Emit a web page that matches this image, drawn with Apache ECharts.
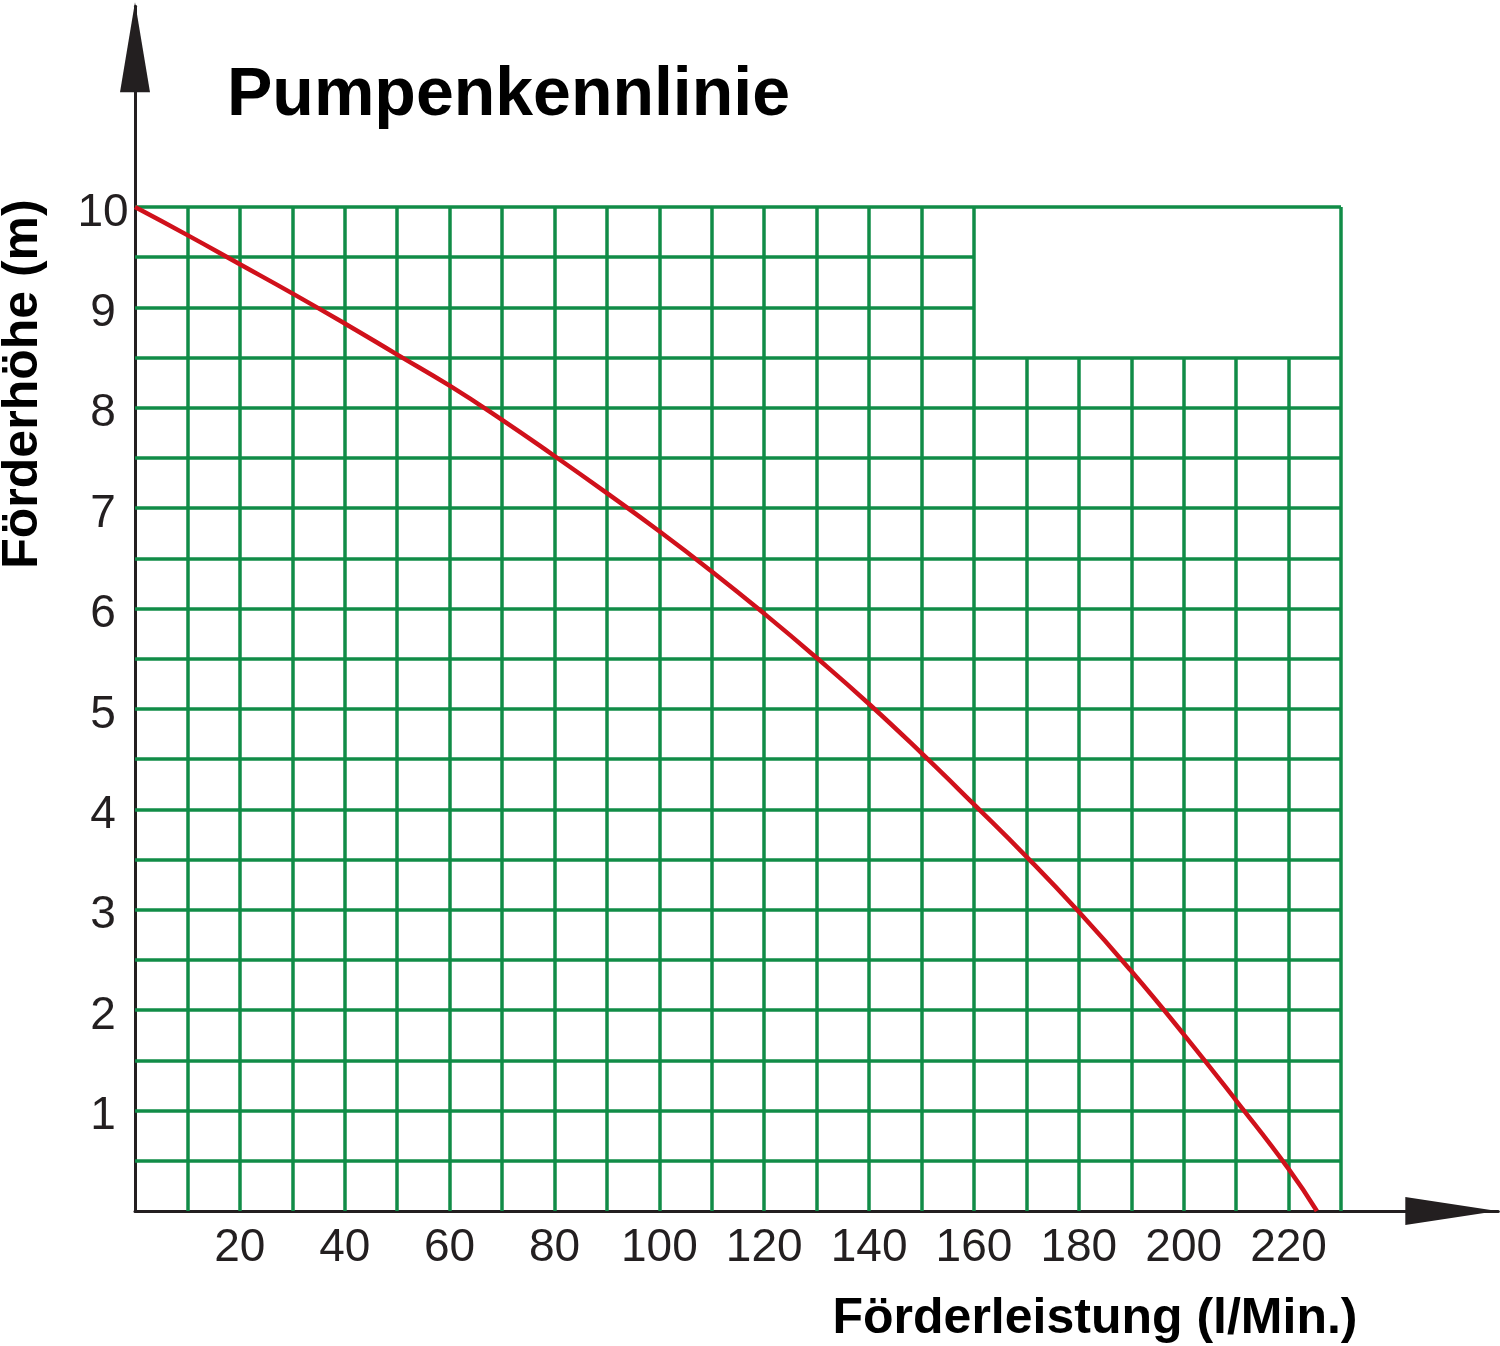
<!DOCTYPE html>
<html><head><meta charset="utf-8">
<script src="https://cdn.jsdelivr.net/npm/echarts@6/dist/echarts.min.js"></script>
<style>html,body{margin:0;padding:0;background:#fff}#c{width:1500px;height:1346px}</style>
</head><body><div id="c"></div>
<script>
// Pump curve: flow (l/min) vs head (m)
const flowX = [0,10,20,30,40,50,60,70,80,90,100,110,120,130,140,150,160,170,180,190,200,210,220,225.4];
const headY = [10,9.72,9.43,9.14,8.84,8.53,8.22,7.88,7.52,7.15,6.77,6.37,5.95,5.51,5.05,4.56,4.05,3.53,2.98,2.39,1.76,1.1,0.42,0];
const xTickLabels = [20,40,60,80,100,120,140,160,180,200,220];
const yTickLabels = [1,2,3,4,5,6,7,8,9,10];
// grid lines (green): vertical lines at x up to top value, horizontal lines at y up to right value
const vGridX   = [10,20,30,40,50,60,70,80,90,100,110,120,130,140,150,160,170,180,190,200,210,220,230];
const vGridTop = [10,10,10,10,10,10,10,10,10,10,10,10,10,10,10,10,8.5,8.5,8.5,8.5,8.5,8.5,10];
const hGridY     = [0.5,1,1.5,2,2.5,3,3.5,4,4.5,5,5.5,6,6.5,7,7.5,8,8.5,9,9.5,10];
const hGridRight = [230,230,230,230,230,230,230,230,230,230,230,230,230,230,230,230,230,160,160,230];

const gridLines = [];
vGridX.forEach((x,i)=>gridLines.push({coords:[[x,0],[x,vGridTop[i]]]}));
hGridY.forEach((y,i)=>gridLines.push({coords:[[0,y],[hGridRight[i],y]]}));

const chart = echarts.init(document.getElementById('c'), null, {renderer:'canvas'});
const FONT = 'Liberation Sans';
const AXC = '#231f20';
const isLabel = (list, v) => Math.abs(v - Math.round(v)) < 1e-6 && list.indexOf(Math.round(v)) >= 0;
chart.setOption({
  animation:false,
  backgroundColor:'#fff',
  title:{text:'Pumpenkennlinie', left:227, top:62, padding:0,
    textStyle:{fontSize:68, fontWeight:'bold', color:'#000', fontFamily:FONT}},
  grid:{left:135, top:6.2, width:1363.3, height:1204.8, outerBoundsMode:'none', containLabel:false},
  xAxis:{type:'value', min:0, max:260, interval:10,
    axisLine:{show:true, onZero:false, lineStyle:{color:AXC, width:3},
      symbol:['none','triangle'], symbolSize:[28,92], symbolOffset:[0,-47]},
    axisTick:{show:false}, splitLine:{show:false},
    axisLabel:{margin:14, fontSize:46, color:AXC, fontFamily:FONT,
      formatter:v=>isLabel(xTickLabels, v) ? String(Math.round(v)) : ''}},
  yAxis:{type:'value', min:0, max:12, interval:1,
    axisLine:{show:true, onZero:false, lineStyle:{color:AXC, width:3},
      symbol:['none','triangle'], symbolSize:[30,90], symbolOffset:[0,-41]},
    axisTick:{show:false}, splitLine:{show:false},
    axisLabel:{margin:32, align:'center', fontSize:46, color:AXC, fontFamily:FONT,
      formatter:v=>isLabel(yTickLabels, v) ? '{a|' + Math.round(v) + '}' : '',
      rich:{a:{fontSize:46, color:AXC, fontFamily:FONT, padding:[12,0,0,0]}}}},
  graphic:[
    {type:'text', x:23, y:384, rotation:Math.PI/2,
      style:{text:'Förderhöhe (m)', fontSize:50, fontWeight:'bold', fontFamily:FONT, fill:'#000', align:'center', verticalAlign:'middle'}},
    {type:'text', x:1095, y:1319,
      style:{text:'Förderleistung (l/Min.)', fontSize:50, fontWeight:'bold', fontFamily:FONT, fill:'#000', align:'center', verticalAlign:'middle'}}
  ],
  series:[
    {type:'lines', coordinateSystem:'cartesian2d', polyline:false, silent:true, z:1,
      lineStyle:{color:'#118c47', width:3.5, opacity:1}, effect:{show:false}, data:gridLines},
    {type:'line', name:'Pumpenkennlinie', data:flowX.map((x,i)=>[x,headY[i]]),
      showSymbol:false, smooth:0.5, z:5, lineStyle:{color:'#d0111b', width:4.5}}
  ]
});
</script></body></html>
